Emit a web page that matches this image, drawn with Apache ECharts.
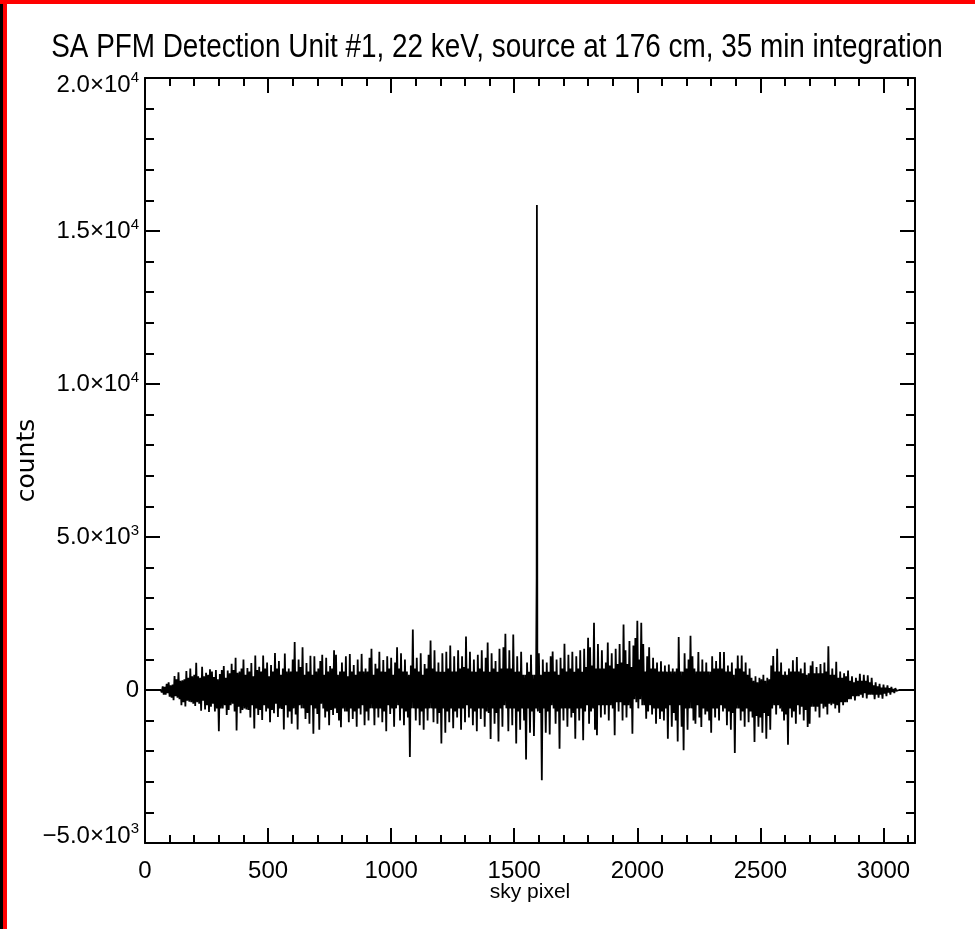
<!DOCTYPE html>
<html><head><meta charset="utf-8">
<script src="https://cdn.jsdelivr.net/npm/echarts@6/dist/echarts.min.js"></script>
<style>html,body{margin:0;padding:0;background:#fff}#c{width:975px;height:929px}</style>
</head><body><div id="c"></div>
<script>
const titleText = 'SA PFM Detection Unit #1, 22 keV, source at 176 cm, 35 min integration';
const xName = 'sky pixel';
const yName = 'counts';
const xMajorTicks = [0, 500, 1000, 1500, 2000, 2500, 3000];
const yTickValues = [-5000, 0, 5000, 10000, 15000, 20000];
const yTickLabels = ['{lo|\u22125.0\u00d710}{los|3}', '0', '5.0\u00d710{s|3}', '1.0\u00d710{s|4}', '1.5\u00d710{s|4}', '{hi|2.0\u00d710}{his|4}'];
const xRange = [0, 3128];
const yRange = [-5000, 20000];

// counts, one value every 4 sky pixels starting at sky pixel 64
const skyFirst = 64, skyStep = 4;
const counts = [
  0,-80, 120,-150, 100,-150, 200,-100, 250,-220, 150,-250, 180,-330, 460,-200, 350,-250, 580,-300, 300,-500, 320,-400, 350,-540, 620,-350, 400,-380, 700,-400, 450,-450, 500,-520, 890,-400, 450,-450, 400,-680, 760,-350, 450,-640, 560,-500, 500,-720,
  680,-550, 600,-450, 420,-700, 650,-600, 350,-1350, 520,-600, 650,-600, 780,-500, 400,-820, 640,-650, 550,-500, 860,-450, 650,-700, 1050,-1320, 560,-550, 600,-760, 700,-650, 1000,-600, 500,-640, 720,-650, 600,-900, 880,-500, 450,-1260, 1130,-600, 650,-820,
  760,-650, 600,-980, 1130,-500, 700,-700, 900,-600, 450,-1050, 820,-650, 600,-760, 1210,-450, 700,-880, 950,-600, 500,-620, 700,-1290, 1190,-500, 600,-900, 700,-700, 600,-1100, 1000,-600, 1570,-800, 600,-1290, 1000,-500, 750,-600, 1400,-600, 500,-950, 880,-750,
  600,-1100, 1120,-500, 500,-1430, 1100,-600, 600,-780, 700,-1300, 950,-450, 1150,-600, 500,-900, 1050,-700, 600,-1150, 780,-650, 700,-820, 1300,-600, 1150,-750, 500,-1000, 600,-1220, 900,-600, 600,-700, 1100,-700, 450,-1050, 1180,-600, 600,-950, 820,-700, 500,-1200,
  1000,-600, 600,-800, 1180,-500, 600,-1150, 700,-700, 600,-1000, 1050,-600, 1350,-600, 500,-1150, 860,-600, 700,-900, 1250,-600, 600,-1050, 980,-700, 600,-1350, 1100,-500, 700,-780, 1050,-600, 500,-1200, 900,-600, 1400,-500, 700,-1000, 1200,-600, 600,-1150, 1000,-700,
  600,-900, 500,-2190, 800,-600, 1980,-600, 700,-1000, 1050,-600, 600,-1150, 1200,-700, 500,-1300, 850,-600, 700,-1000, 1150,-600, 1620,-600, 700,-1050, 1300,-600, 600,-1100, 900,-750, 600,-1750, 1200,-600, 600,-1400, 1250,-700, 700,-1050, 1450,-600, 600,-1250, 1100,-700,
  600,-900, 1300,-600, 700,-1300, 1100,-600, 750,-1050, 1750,-500, 700,-900, 1250,-600, 600,-1150, 1000,-700, 600,-1350, 1150,-600, 700,-950, 1300,-600, 600,-1200, 1050,-700, 1550,-750, 600,-1600, 1200,-600, 700,-1100, 950,-750, 600,-1680, 1350,-600, 700,-1200, 1400,-500,
  1840,-600, 700,-1350, 1300,-600, 700,-1150, 1810,-600, 600,-1750, 1100,-700, 600,-1300, 1250,-600, 500,-1000, 500,-2270, 900,-600, 600,-1400, 1150,-700, 500,-1500, 500,-600, 15850,-700, 1200,-750, 500,-2950, 1000,-600, 600,-1400, 900,-700, 600,-1450, 1100,-500, 1260,-600,
  600,-1100, 1000,-700, 500,-1920, 1050,-600, 700,-1000, 1510,-600, 600,-1200, 1150,-600, 700,-900, 1250,-750, 600,-1590, 1100,-600, 700,-1000, 1300,-600, 600,-1640, 1350,-700, 750,-500, 1710,-1100, 1400,-700, 800,-600, 2200,-1300, 700,-1480, 1500,-500, 700,-900, 1300,-500,
  700,-800, 900,-500, 1550,-1000, 800,-500, 1200,-600, 700,-1480, 1350,-400, 850,-700, 1500,-400, 900,-1000, 2140,-500, 1300,-900, 850,-500, 1600,-600, 750,-1430, 1450,-300, 1700,-400, 2260,-600, 1000,-300, 2200,-500, 1500,-500, 600,-940, 1100,-700, 1400,-500, 700,-800,
  1050,-600, 700,-1100, 900,-600, 600,-950, 940,-700, 600,-1000, 800,-600, 600,-1590, 830,-500, 600,-1200, 700,-750, 600,-1000, 700,-1680, 1730,-500, 600,-1200, 600,-1970, 1200,-600, 700,-1300, 1000,-600, 1770,-600, 1100,-1000, 700,-1100, 600,-500, 1240,-900, 600,-1210,
  1000,-600, 600,-800, 900,-700, 600,-1000, 600,-1400, 1100,-600, 700,-900, 950,-600, 700,-1000, 1240,-500, 700,-700, 1240,-600, 600,-1150, 800,-700, 600,-1300, 900,-750, 500,-2060, 700,-600, 1130,-600, 700,-1000, 1130,-700, 600,-1200, 900,-600, 500,-1050, 700,-700,
  400,-900, 300,-1700, 450,-850, 250,-1200, 400,-900, 350,-1400, 500,-750, 300,-1590, 400,-850, 350,-1300, 800,-600, 1110,-500, 600,-800, 1350,-500, 600,-600, 900,-700, 500,-1000, 600,-800, 500,-1790, 700,-600, 600,-900, 970,-700, 600,-1100, 1080,-500, 600,-800,
  700,-550, 550,-1000, 900,-650, 500,-1210, 550,-1100, 800,-550, 940,-550, 550,-700, 750,-550, 550,-900, 850,-450, 550,-600, 900,-550, 600,-800, 1430,-450, 500,-500, 700,-450, 500,-600, 920,-500, 400,-740, 600,-400, 400,-500, 550,-400, 450,-400, 640,-300,
  300,-300, 450,-200, 250,-340, 400,-200, 300,-200, 530,-150, 300,-250, 500,-100, 300,-280, 480,-150, 250,-150, 400,-150, 150,-300, 250,-150, 120,-250, 200,-150, 80,-280, 180,-120, 80,-200, 150,-80, 60,-150, 100,-60, 30,-100, 60,-30, 10,-40
];
// the steep sides of the source peak around the sample at sky pixel 1592
const spikePixels = [1591, 1593, 1594];
const spikeCounts = [3650, 10780, -400];
// flat (zero) ends of the trace
const edgePixels = [0, 3064, 3128];
const edgeCounts = [0, 0, 0];

const pts = [];
counts.forEach((v, i) => pts.push([skyFirst + i * skyStep, v]));
spikePixels.forEach((p, i) => pts.push([p, spikeCounts[i]]));
edgePixels.forEach((p, i) => pts.push([p, edgeCounts[i]]));
pts.sort((a, b) => a[0] - b[0]);

const SANS = '"Liberation Sans", Arial, sans-serif';
const black = '#000';
const supStyle = { fontSize: 15, fontFamily: SANS, color: black, verticalAlign: 'top', padding: [0, 0, 12, 0] };

function xAxisDef(pos, interval, tickLen, labels) {
  return {
    type: 'value', position: pos, min: xRange[0], max: xRange[1], interval: interval,
    axisLine: { show: tickLen > 10, onZero: false, lineStyle: { color: black, width: 2 } },
    axisTick: { show: true, inside: true, length: tickLen, lineStyle: { color: black, width: 2 } },
    axisLabel: labels ? {
      show: true, margin: 16, color: black, fontSize: 24, fontFamily: SANS,
      formatter: v => xMajorTicks.indexOf(v) >= 0 ? String(v) : ''
    } : { show: false },
    splitLine: { show: false },
    name: labels ? xName : '', nameLocation: 'middle', nameGap: 39, nameMoveOverlap: false,
    nameTextStyle: { color: black, fontSize: 21, fontFamily: SANS }
  };
}
function yAxisDef(pos, interval, tickLen, labels) {
  return {
    type: 'value', position: pos, min: yRange[0], max: yRange[1], interval: interval,
    axisLine: { show: tickLen > 10, onZero: false, lineStyle: { color: black, width: 2 } },
    axisTick: { show: true, inside: true, length: tickLen, lineStyle: { color: black, width: 2 } },
    axisLabel: labels ? {
      show: true, margin: 6, color: black, fontSize: 24, fontFamily: SANS,
      formatter: v => { const k = yTickValues.indexOf(v); return k >= 0 ? yTickLabels[k] : ''; },
      rich: {
        s: supStyle,
        hi: { fontSize: 24, fontFamily: SANS, color: black, padding: [17, 0, 3, 0] },
        his: Object.assign({}, supStyle, { padding: [14, 0, 0, 0] }),
        lo: { fontSize: 24, fontFamily: SANS, color: black, padding: [3, 0, 17, 0] },
        los: Object.assign({}, supStyle, { padding: [0, 0, 0, 0] })
      }
    } : { show: false },
    splitLine: { show: false },
    name: labels ? yName : '', nameLocation: 'middle', nameGap: 105, nameMoveOverlap: false,
    nameTextStyle: { color: black, fontSize: 25, fontFamily: '"DejaVu Sans", sans-serif' }
  };
}

const chart = echarts.init(document.getElementById('c'), null, { renderer: 'canvas' });
chart.setOption({
  backgroundColor: '#fff',
  animation: false,
  grid: { left: 145, right: 60, top: 78, bottom: 86, containLabel: false },
  xAxis: [
    xAxisDef('bottom', 500, 15, true),
    xAxisDef('bottom', 100, 8, false),
    xAxisDef('top', 500, 15, false),
    xAxisDef('top', 100, 8, false)
  ],
  yAxis: [
    yAxisDef('left', 5000, 15, true),
    yAxisDef('left', 1000, 9, false),
    yAxisDef('right', 5000, 15, false),
    yAxisDef('right', 1000, 9, false)
  ],
  graphic: [
    { type: 'rect', left: 0, top: 0, shape: { width: 3, height: 929 }, style: { fill: '#000' }, silent: true },
    { type: 'rect', left: 3, top: 0, shape: { width: 4, height: 929 }, style: { fill: '#f00' }, silent: true },
    { type: 'rect', left: 0, top: 0, shape: { width: 975, height: 4 }, style: { fill: '#f00' }, silent: true },
    { type: 'text', x: 497, y: 31, scaleX: 0.82, silent: true,
      style: { text: titleText, fill: black, fontSize: 34, fontFamily: SANS, textAlign: 'center', textVerticalAlign: 'top' } }
  ],
  series: [{
    type: 'line', xAxisIndex: 0, yAxisIndex: 0, data: pts, showSymbol: false, symbol: 'none',
    lineStyle: { color: black, width: 1.8 }, clip: true
  }]
});
</script></body></html>
